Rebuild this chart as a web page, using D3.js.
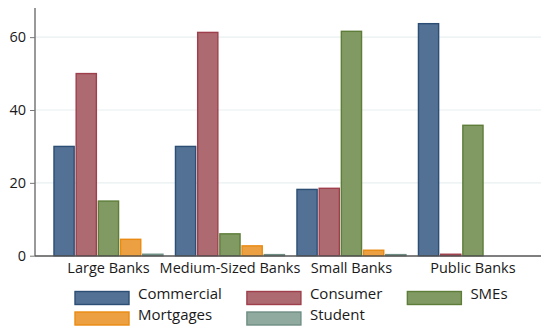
<!DOCTYPE html>
<html>
<head>
<meta charset="utf-8">
<script src="https://cdn.jsdelivr.net/npm/d3@7/dist/d3.min.js"></script>
<style>
  html, body { margin: 0; padding: 0; background: #fff; }
  svg { display: block; font-family: "Open Sans", "Noto Sans", sans-serif; }
</style>
</head>
<body>
<svg id="chart" width="541" height="326"></svg>
<script>
// Loan portfolio shares by bank type
const categories = ["Large Banks", "Medium-Sized Banks", "Small Banks", "Public Banks"];
const seriesNames = ["Commercial", "Consumer", "SMEs", "Mortgages", "Student"];
const commercial = [30, 30, 18.2, 63.7];
const consumer   = [50, 61.3, 18.5, 0.4];
const smes       = [15, 6, 61.6, 35.8];
const mortgages  = [4.5, 2.7, 1.5, 0];
const student    = [0.4, 0.3, 0.3, 0];
const yTicks = [0, 20, 40, 60];

const fills   = ["#527194", "#ad6a70", "#819a63", "#eca042", "#91aaa0"];
const strokes = ["#2d4e74", "#9e3f4b", "#5d7d38", "#ea8a12", "#6f8e83"];

const seriesValues = [commercial, consumer, smes, mortgages, student];
const rows = categories.map((c, i) => ({
  category: c,
  values: seriesNames.map((s, j) => ({ series: s, idx: j, value: seriesValues[j][i] }))
}));

const svg = d3.select("#chart");
const plot = { left: 35, right: 541, top: 8, bottom: 256 };

const y = d3.scaleLinear().domain([0, 68]).range([plot.bottom - 0.3, plot.top]);
const x0 = d3.scaleBand().domain(categories)
  .range([47.9, 533.5]).paddingInner(0.103).paddingOuter(0.05);
const x1 = d3.scaleBand().domain(seriesNames)
  .range([0, x0.bandwidth()]).paddingInner(0.09);

// gridlines
svg.append("g")
  .selectAll("line")
  .data(yTicks.filter(t => t > 0))
  .join("line")
  .attr("x1", plot.left).attr("x2", plot.right)
  .attr("y1", d => y(d)).attr("y2", d => y(d))
  .attr("stroke", "#e9efef").attr("stroke-width", 1.2);

// bars
const groups = svg.append("g")
  .selectAll("g")
  .data(rows)
  .join("g")
  .attr("transform", d => `translate(${x0(d.category)},0)`);

groups.selectAll("rect")
  .data(d => d.values.filter(v => v.value > 0))
  .join("rect")
  .attr("x", d => x1(d.series))
  .attr("width", x1.bandwidth())
  .attr("y", d => y(d.value))
  .attr("height", d => y(0) - y(d.value))
  .attr("fill", d => fills[d.idx])
  .attr("stroke", d => strokes[d.idx])
  .attr("stroke-width", 1.4);

// y axis
const yAxis = svg.append("g")
  .attr("transform", `translate(${plot.left},0)`)
  .call(d3.axisLeft(y).tickValues(yTicks).tickSize(5).tickPadding(4).tickFormat(d3.format("d")));
yAxis.select(".domain").attr("d", `M0,${plot.top}V${plot.bottom}`).attr("stroke", "#777").attr("stroke-width", 1.5);
yAxis.selectAll(".tick line").attr("stroke", "#777");
yAxis.selectAll(".tick text").attr("font-size", 14.5).attr("fill", "#1a1a1a")
  .attr("font-family", "'Open Sans', sans-serif");

// x axis
const xAxis = svg.append("g")
  .attr("transform", `translate(0,${plot.bottom})`)
  .call(d3.axisBottom(x0).tickSize(0).tickPadding(7));
xAxis.select(".domain").attr("d", `M${plot.left},0H${plot.right}`).attr("stroke", "#555").attr("stroke-width", 1.5);
xAxis.selectAll(".tick text").attr("font-size", 14.5).attr("fill", "#1a1a1a")
  .attr("font-family", "'Open Sans', sans-serif");

// legend: three columns, column width set by widest label
const legend = svg.append("g");
const nCols = 3, swW = 54, swH = 13, textGap = 9, colGap = 25;
const rowY = [291.5, 312];
const items = legend.selectAll("g")
  .data(seriesNames)
  .join("g");
items.append("rect")
  .attr("width", swW).attr("height", swH)
  .attr("fill", (d, i) => fills[i])
  .attr("stroke", (d, i) => strokes[i])
  .attr("stroke-width", 1.4);
items.append("text")
  .attr("x", swW + textGap).attr("y", 7.5)
  .attr("font-size", 15).attr("fill", "#1a1a1a")
  .text(d => d);

const colWidths = d3.range(nCols).map(c => d3.max(
  items.filter((d, i) => i % nCols === c).select("text").nodes(),
  n => n.getComputedTextLength()) + swW + textGap);
let colX = [75];
for (let c = 1; c < nCols; c++) colX.push(colX[c - 1] + colWidths[c - 1] + colGap);
items.attr("transform", (d, i) => `translate(${colX[i % nCols]},${rowY[Math.floor(i / nCols)]})`);
</script>
</body>
</html>
